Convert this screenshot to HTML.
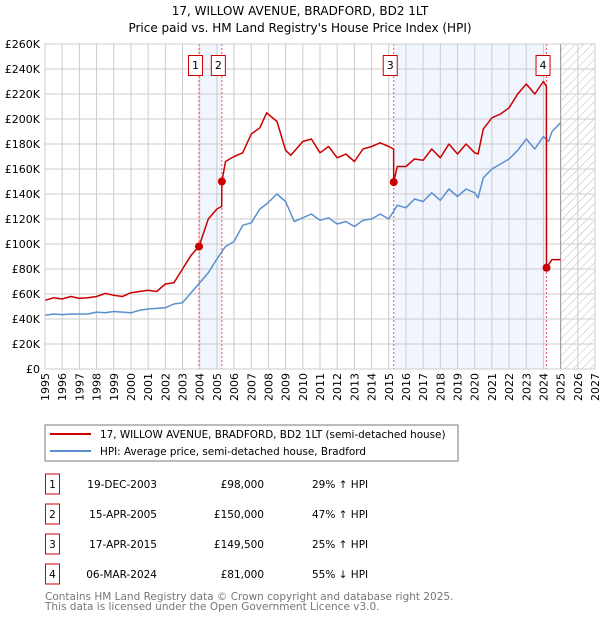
<!DOCTYPE html>
<html><head><meta charset="utf-8"><style>
body{margin:0;background:#fff;font-family:"DejaVu Sans","Liberation Sans",sans-serif}
svg text{font-family:"DejaVu Sans","Liberation Sans",sans-serif}
</style></head><body>
<svg id="c" width="600" height="620" xmlns="http://www.w3.org/2000/svg"></svg>
<script>
const hpiYears=[1995,1995.5,1996,1996.5,1997,1997.5,1998,1998.5,1999,1999.5,2000,2000.5,2001,2001.5,2002,2002.5,2003,2003.5,2004,2004.5,2005,2005.5,2006,2006.5,2007,2007.5,2007.9,2008.5,2009,2009.5,2010,2010.5,2011,2011.5,2012,2012.5,2013,2013.5,2014,2014.5,2015,2015.5,2016,2016.5,2017,2017.5,2018,2018.5,2019,2019.5,2020,2020.2,2020.5,2021,2021.5,2022,2022.5,2023,2023.5,2024,2024.3,2024.5,2025];
const hpiValues=[43,44,43.5,44,44,44,45.5,45,46,45.5,45,47,48,48.5,49,52,53,61,69,77,88,98,102,115,117,128,132,140,134,118,121,124,119,121,116,118,114,119,120,124,120,131,129,136,134,141,135,144,138,144,141,137,153,160,164,168,175,184,176,186,182,190,197];
const priceYears=[1995,1995.5,1996,1996.5,1997,1997.5,1998,1998.5,1999,1999.5,2000,2001,2001.5,2002,2002.5,2003,2003.5,2003.96,2004.5,2005,2005.28,2005.29,2005.5,2006,2006.5,2007,2007.5,2007.9,2008.5,2009,2009.3,2010,2010.5,2011,2011.5,2012,2012.5,2013,2013.5,2014,2014.5,2015,2015.28,2015.29,2015.5,2016,2016.5,2017,2017.5,2018,2018.5,2019,2019.5,2020,2020.2,2020.5,2021,2021.5,2022,2022.5,2023,2023.5,2024,2024.17,2024.18,2024.5,2025];
const priceValues=[55,57,56,58,56.5,57,58,60.5,59,58,61,63,62,68,69,80,91,98,120,128,130,150,166,170,173,188,193,205,198,175,171,182,184,173,178,169,172,166,176,178,181,178,176,149.5,162,162,168,167,176,169,180,172,180,173,172,192,201,204,209,220,228,220,230,226,81,87.5,87.5];
const saleLabels=["1","2","3","4"];
const saleYears=[2003.96,2005.29,2015.29,2024.18];
const saleValues=[98,150,149.5,81];
const yTicks=[0,20,40,60,80,100,120,140,160,180,200,220,240,260];
const xTicks=[1995,1996,1997,1998,1999,2000,2001,2002,2003,2004,2005,2006,2007,2008,2009,2010,2011,2012,2013,2014,2015,2016,2017,2018,2019,2020,2021,2022,2023,2024,2025,2026,2027];

const L=45,R=595,T=44,B=369;
const X=y=>L+(y-1995)*(R-L)/32;
const Y=v=>B-v*(B-T)/260;
const svg=document.getElementById('c');
const NS='http://www.w3.org/2000/svg';
function mk(tag,attrs,parent){const e=document.createElementNS(NS,tag);for(const k in attrs)e.setAttribute(k,attrs[k]);(parent||svg).appendChild(e);return e;}

const defs=mk('defs',{});
const pat=mk('pattern',{id:'h',width:6,height:6,patternUnits:'userSpaceOnUse',patternTransform:'rotate(45)'},defs);
mk('line',{x1:0,y1:0,x2:0,y2:6,stroke:'#bbb','stroke-width':1},pat);

let t=mk('text',{x:300,y:15,'text-anchor':'middle','font-size':12,fill:'#000'});t.textContent='17, WILLOW AVENUE, BRADFORD, BD2 1LT';

t=mk('text',{x:300,y:32,'text-anchor':'middle','font-size':12,fill:'#000'});t.textContent="Price paid vs. HM Land Registry's House Price Index (HPI)";


let r=mk('rect',{x:X(saleYears[0]),y:T,width:X(saleYears[1])-X(saleYears[0]),height:B-T,fill:'#eef3fc',opacity:0.8});

r=mk('rect',{x:X(saleYears[2]),y:T,width:X(saleYears[3])-X(saleYears[2]),height:B-T,fill:'#eef3fc',opacity:0.8});

r=mk('rect',{x:X(2025),y:T,width:R-X(2025),height:B-T,fill:'url(#h)'});


xTicks.forEach(y=>{const l=mk('line',{x1:X(y),x2:X(y),y1:T,y2:B,stroke:'#ccc','stroke-width':1});

const tx=X(y)+4, ty=B+4;
const el=mk('text',{x:tx,y:ty,transform:`rotate(-90 ${tx} ${ty})`,'text-anchor':'end','font-size':11,fill:'#000'});el.textContent=y;
});
yTicks.forEach(v=>{const l=mk('line',{x1:L,x2:R,y1:Y(v),y2:Y(v),stroke:'#ccc','stroke-width':1});

const tx=mk('text',{x:L-5,y:Y(v)+4,'text-anchor':'end','font-size':11,fill:'#000'});tx.textContent='£'+(v?v+'K':'0');
});
let bl=mk('line',{x1:X(2025),x2:X(2025),y1:T,y2:B,stroke:'#999','stroke-width':1});


saleYears.forEach((y,i)=>{const l=mk('line',{x1:X(y),x2:X(y),y1:T,y2:B,stroke:'#e55','stroke-width':1,'stroke-dasharray':'2,2'});

const g=mk('g',{});
mk('rect',{x:X(y)-10.5,y:55.5,width:14,height:20,fill:'#fff',stroke:'#c00'},g);
const tx=mk('text',{x:X(y)-3.5,y:69,'text-anchor':'middle','font-size':11,fill:'#000'},g);tx.textContent=saleLabels[i];});

function path(xs,vs,color,name){let d='';xs.forEach((x,i)=>d+=(i?'L':'M')+X(x).toFixed(1)+','+Y(vs[i]).toFixed(1));
const p=mk('path',{d,fill:'none',stroke:color,'stroke-width':1.5,'stroke-linejoin':'round'});
}
path(hpiYears,hpiValues,'#5b8fd0','hpi-line');
path(priceYears,priceValues,'#cc0000','price-paid-line');
saleYears.forEach((y,i)=>{const c=mk('circle',{cx:X(y),cy:Y(saleValues[i]),r:4,fill:'#cc0000'});
});
let fr=mk('rect',{x:L,y:T,width:R-L,height:B-T,fill:'none',stroke:'#ccc'});


const lg=mk('g',{});
mk('rect',{x:45,y:425,width:413,height:36,fill:'#fff',stroke:'#777'},lg);
mk('line',{x1:50,x2:91,y1:434,y2:434,stroke:'#cc0000','stroke-width':2},lg);
mk('line',{x1:50,x2:91,y1:451,y2:451,stroke:'#5b8fd0','stroke-width':2},lg);
t=mk('text',{x:100,y:438,'font-size':10.4},lg);t.textContent='17, WILLOW AVENUE, BRADFORD, BD2 1LT (semi-detached house)';
t=mk('text',{x:100,y:455,'font-size':10.4},lg);t.textContent='HPI: Average price, semi-detached house, Bradford';

const dates=['19-DEC-2003','15-APR-2005','17-APR-2015','06-MAR-2024'];
const prices=['£98,000','£150,000','£149,500','£81,000'];
const rel=['29% ↑ HPI','47% ↑ HPI','25% ↑ HPI','55% ↓ HPI'];
const rowY=[483,513,543,573];
rowY.forEach((yy,i)=>{const g=mk('g',{});
mk('rect',{x:45.5,y:yy-9,width:14,height:20,fill:'#fff',stroke:'#c00'},g);
let a=mk('text',{x:52.5,y:yy+5,'text-anchor':'middle','font-size':10.5},g);a.textContent=saleLabels[i];
a=mk('text',{x:157,y:yy+5,'text-anchor':'end','font-size':10.5},g);a.textContent=dates[i];
a=mk('text',{x:264,y:yy+5,'text-anchor':'end','font-size':10.5},g);a.textContent=prices[i];
a=mk('text',{x:312,y:yy+5,'font-size':10.5},g);a.textContent=rel[i];});
t=mk('text',{x:45,y:600,'font-size':10.5,fill:'#777'});t.textContent='Contains HM Land Registry data © Crown copyright and database right 2025.';

t=mk('text',{x:45,y:610,'font-size':10.5,fill:'#777'});t.textContent='This data is licensed under the Open Government Licence v3.0.';

</script>
</body></html>
